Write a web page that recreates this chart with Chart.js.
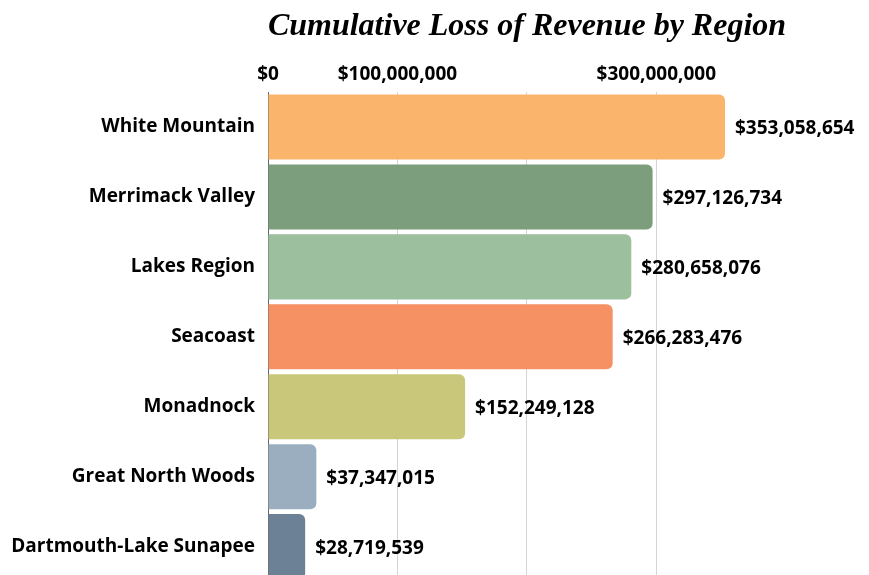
<!DOCTYPE html>
<html>
<head>
<meta charset="utf-8">
<script src="https://cdn.jsdelivr.net/npm/chart.js@4/dist/chart.umd.min.js"></script>
<style>
	html, body { margin: 0; padding: 0; overflow: hidden; background: #fff; }
	canvas { display: block; }
</style>
</head>
<body>
<canvas id="graphicLossByRegion" width="869" height="606"></canvas>
<script>
const title = 'Cumulative Loss of Revenue by Region';
const regions = ['White Mountain', 'Merrimack Valley', 'Lakes Region', 'Seacoast', 'Monadnock', 'Great North Woods', 'Dartmouth-Lake Sunapee'];
const losses = [353058654, 297126734, 280658076, 266283476, 152249128, 37347015, 28719539];
const colors = ['#FBB46B', '#7D9E7D', '#9CBF9E', '#F59163', '#C9C77A', '#9AAEC0', '#6C8196'];
const tickValues = [0, 100000000, 200000000, 300000000];
const tickLabels = ['$0', '$100,000,000', '', '$300,000,000'];

const labelFont = { family: '"Open Sans"', size: 19, weight: 'bold' };

function money(v) {
	return '$' + v.toLocaleString('en-US');
}

// title + value labels drawn on the canvas
const extraText = {
	id: 'extraText',
	afterDatasetsDraw: function(chart) {
		const ctx = chart.ctx;
		ctx.save();
		ctx.fillStyle = '#000';
		ctx.font = 'italic bold 32px "Liberation Serif"';
		ctx.textAlign = 'center';
		ctx.textBaseline = 'middle';
		ctx.fillText(title, 527, 27);

		ctx.font = 'bold 19px "Open Sans"';
		ctx.textAlign = 'left';
		ctx.fillStyle = '#000';
		chart.getDatasetMeta(0).data.forEach(function(bar, i) {
			ctx.fillText(money(losses[i]), bar.x + 10, bar.y + 2);
		});
		ctx.restore();
	}
};

const chart = new Chart(document.getElementById('graphicLossByRegion').getContext('2d'), {
	type: 'bar',
	data: {
		labels: regions,
		datasets: [{
			data: losses,
			backgroundColor: colors,
			borderRadius: 6,
			borderSkipped: 'start',
			barPercentage: 0.93,
			categoryPercentage: 1
		}]
	},
	options: {
		indexAxis: 'y',
		responsive: false,
		animation: false,
		layout: { padding: { left: 0, right: 144, top: 0, bottom: 0 } },
		plugins: {
			legend: { display: false },
			tooltip: { enabled: false }
		},
		scales: {
			x: {
				position: 'top',
				min: 0,
				max: Math.max.apply(null, losses),
				afterBuildTicks: function(scale) {
					scale.ticks = tickValues.map(function(v) { return { value: v }; });
				},
				ticks: {
					autoSkip: false,
					maxRotation: 0,
					padding: 6,
					color: '#000',
					font: labelFont,
					callback: function(v) {
						const i = tickValues.indexOf(v);
						return i >= 0 ? tickLabels[i] : '';
					}
				},
				grid: {
					drawTicks: false,
					color: function(c) { return c.tick && c.tick.value === 0 ? '#666' : '#d4d4d4'; },
					lineWidth: 1
				},
				border: { display: false },
				afterFit: function(scale) { scale.height = 92; }
			},
			y: {
				ticks: {
					color: '#000',
					font: labelFont,
					padding: 13
				},
				grid: { display: false, drawTicks: false },
				border: { display: true, color: '#666' },
				afterFit: function(scale) { scale.width = 268; }
			}
		}
	},
	plugins: [extraText]
});
</script>
</body>
</html>
